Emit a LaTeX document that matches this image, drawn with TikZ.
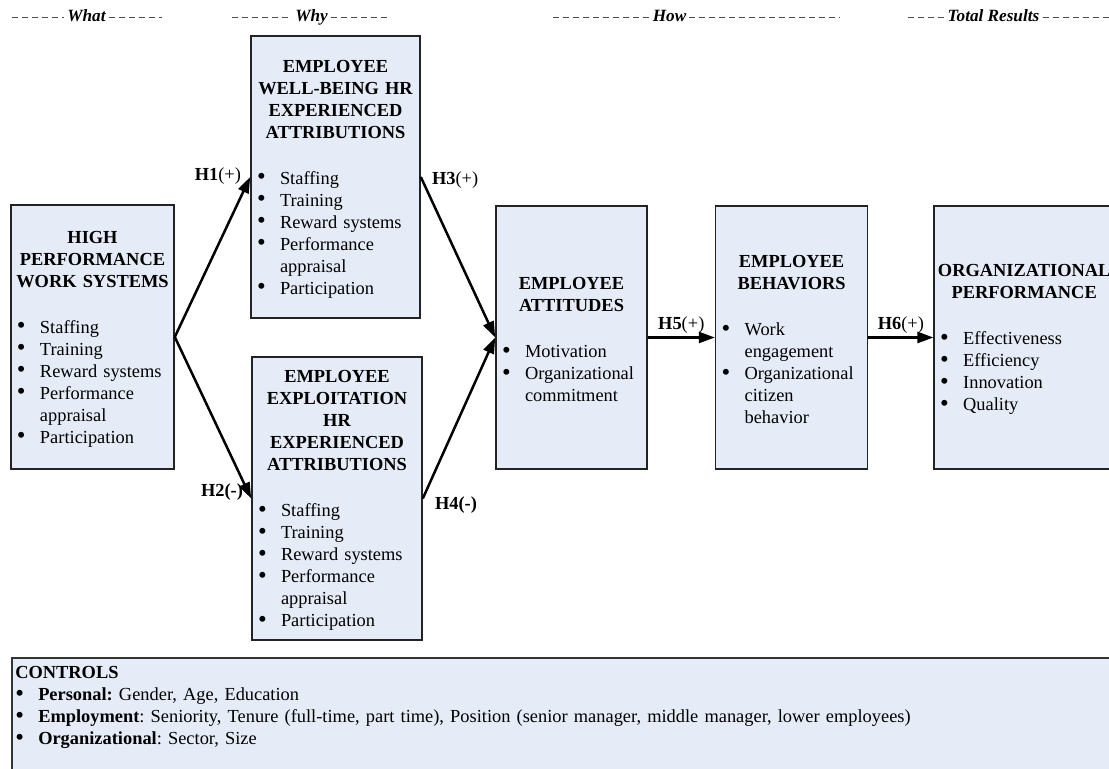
\documentclass[tikz,border=0pt]{standalone}
\usepackage{fontspec}
\setmainfont{Liberation Serif}
\usetikzlibrary{arrows.meta,positioning}

\definecolor{boxfill}{RGB}{230,236,247}
\definecolor{boxline}{RGB}{35,35,35}

\tikzstyle{hbox}=[shape=rectangle,
                  draw=boxline,
                  fill=boxfill,
                  line width=0.8pt,
                  inner xsep=3pt,
                  inner ysep=0pt,
                  align=left]
\tikzstyle{hdr}=[font=\fontsize{8.6}{10}\selectfont\bfseries\itshape,
                 text height=6.5pt,
                 text depth=1.5pt,
                 inner sep=1pt]
\tikzstyle{hdash}=[draw=black!70,
                   line width=0.4pt,
                   dash pattern=on 3pt off 2pt]

\frenchspacing
\newcommand\ttl[1]{\par\noindent\makebox[\linewidth]{\bfseries #1}}
\newcommand\gap{\par\vspace{12pt}}
\newcommand\blt{\raisebox{-0.4pt}{\scalebox{1.35}{\textbullet}}}
\newcommand\itm[1]{\par\hangindent=11.5pt\hangafter=1\noindent\makebox[11.5pt][l]{\blt}#1\par}
\newcommand\fin{\par\nointerlineskip\noindent\rule{0pt}{3pt}\par}

\begin{document}
\begin{tikzpicture}[x=0.5pt,y=-0.5pt,>={Triangle[length=8pt,width=5.5pt]},
                    line width=1.25pt,font=\fontsize{9.2}{11}\selectfont]

\path[use as bounding box,clip] (0,0) rectangle (1109,769);

% column headings
\node[hdr] (what) at (86.5,17)   {What};
\node[hdr] (why)  at (311.5,17)  {Why};
\node[hdr] (how)  at (669.5,17)  {How};
\node[hdr] (tot)  at (993.5,17)  {Total Results};

\coordinate (what-l) at (12,17);   \coordinate (what-r) at (162,17);
\coordinate (why-l)  at (232,17);  \coordinate (why-r)  at (390,17);
\coordinate (how-l)  at (553,17);  \coordinate (how-r)  at (840,17);
\coordinate (tot-l)  at (908,17);  \coordinate (tot-r)  at (1109,17);

\draw[hdash] (what-l) -- (what.west) (what.east) -- (what-r)
             (why-l) -- (why.west)   (why.east) -- (why-r)
             (how-l) -- (how.west)   (how.east) -- (how-r)
             (tot-l) -- (tot.west)   (tot.east) -- (tot-r);

% boxes
\node[hbox,text width=75.5pt,minimum height=132pt] (hpws) at (92.5,337)
  {\ttl{HIGH}\ttl{PERFORMANCE}\ttl{WORK SYSTEMS}\gap
   \itm{Staffing}\itm{Training}\itm{Reward systems}
   \itm{Performance\newline appraisal}\itm{Participation}\fin};

\node[hbox,text width=78.5pt,minimum height=141pt] (wb) at (335.5,177)
  {\ttl{EMPLOYEE}\ttl{WELL-BEING HR}\ttl{EXPERIENCED}\ttl{ATTRIBUTIONS}\gap
   \itm{Staffing}\itm{Training}\itm{Reward systems}
   \itm{Performance\newline appraisal}\itm{Participation}\fin};

\node[hbox,text width=79pt,minimum height=141.5pt] (ex) at (337,498.5)
  {\ttl{EMPLOYEE}\ttl{EXPLOITATION}\ttl{HR}\ttl{EXPERIENCED}\ttl{ATTRIBUTIONS}\gap
   \itm{Staffing}\itm{Training}\itm{Reward systems}
   \itm{Performance\newline appraisal}\itm{Participation}\fin};

\node[hbox,text width=69.5pt,minimum height=131.5pt] (att) at (571.5,337.5)
  {\ttl{EMPLOYEE}\ttl{ATTITUDES}\gap
   \itm{Motivation}\itm{Organizational\newline commitment}\fin};

\node[hbox,text width=70pt,minimum height=131.5pt] (beh) [right=33.5pt of att]
  {\ttl{EMPLOYEE}\ttl{BEHAVIORS}\gap
   \itm{Work\newline engagement}\itm{Organizational\newline citizen\newline behavior}\fin};

\node[hbox,text width=84pt,minimum height=131.5pt] (org) [right=32.5pt of beh]
  {\ttl{ORGANIZATIONAL}\ttl{PERFORMANCE}\gap
   \itm{Effectiveness}\itm{Efficiency}\itm{Innovation}\itm{Quality}\fin};

% controls
\node[hbox,line width=1.2pt,draw=black!80,minimum width=570pt,minimum height=75pt,
      anchor=north west] (ctl) at (11,657) {};
\node[anchor=base west,align=left,text width=530pt,inner sep=0pt] (ctltxt) at (14,679)
  {\textbf{CONTROLS}
   \itm{\textbf{Personal:} Gender, Age, Education}
   \itm{\textbf{Employment}: Seniority, Tenure (full-time, part time), Position (senior manager, middle manager, lower employees)}
   \itm{\textbf{Organizational}: Sector, Size}};

\path[->] (hpws.east) edge node[at end,anchor=east,xshift=-4pt,yshift=0.5pt,inner sep=0pt]
                           {\textbf{H1}(+)} (wb.west)
          (hpws.east) edge node[at end,anchor=east,xshift=-3.5pt,yshift=3.25pt,inner sep=0pt]
                           {\textbf{H2(-)}} (ex.west)

          (wb.east) edge node[at start,anchor=west,xshift=5pt,yshift=-1.5pt,inner sep=0pt]
                         {\textbf{H3}(+)} (att.west)
          (ex.east) edge node[at start,anchor=west,xshift=5.5pt,yshift=-3.25pt,inner sep=0pt]
                         {\textbf{H4(-)}} (att.west)

          (att.east) edge node[midway,above,inner sep=1.5pt] {\textbf{H5}(+)} (beh.west)
          (beh.east) edge node[midway,above,inner sep=1.5pt] {\textbf{H6}(+)} (org.west);
\end{tikzpicture}
\end{document}
